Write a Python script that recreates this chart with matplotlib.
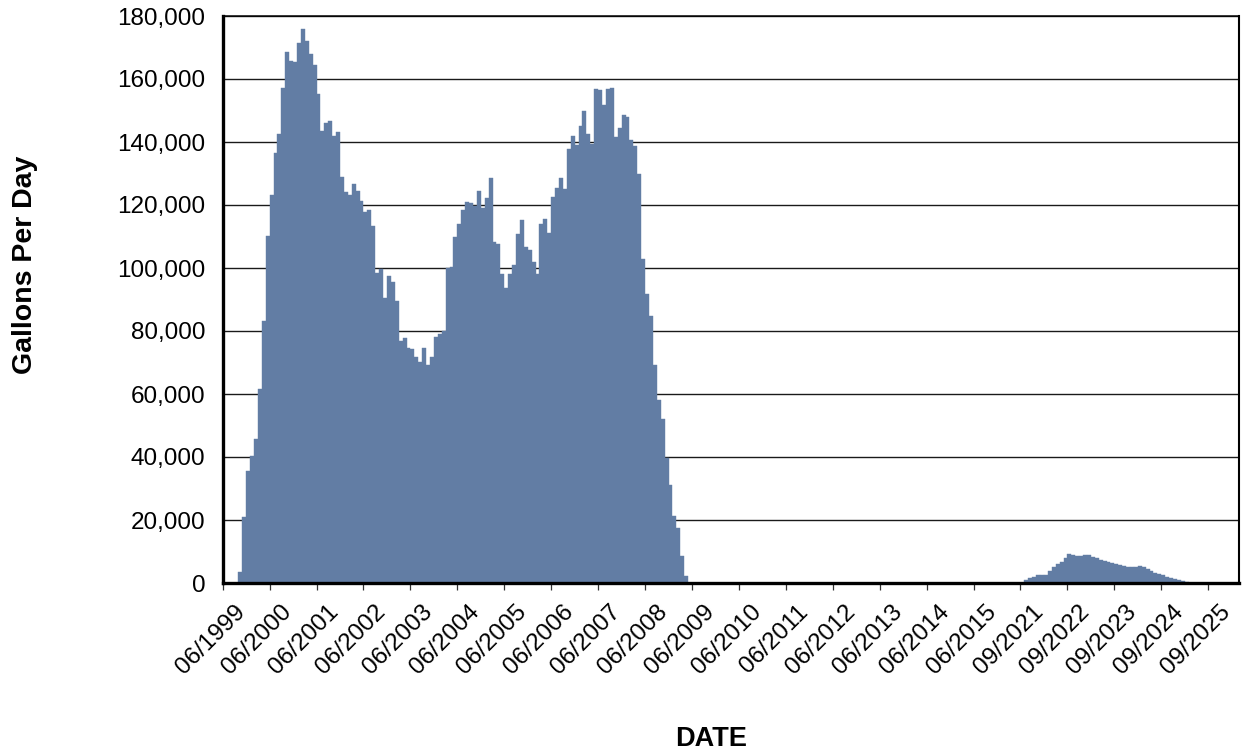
import numpy as np
import matplotlib
matplotlib.use("Agg")
import matplotlib.pyplot as plt
import matplotlib.transforms as mtransforms
from matplotlib.ticker import FuncFormatter, MultipleLocator

plt.rcParams['font.family'] = ['Liberation Sans', 'DejaVu Sans']

# Monthly values (gallons per day)
values_1999_2009 = [
    0, 0, 0, 0, 3500, 20900, 35600, 40400, 45600, 61500,
    83300, 110300, 123200, 136500, 142600, 157200, 168600, 165800, 165500, 171300,
    176000, 172000, 167800, 164300, 155100, 143600, 146000, 146800, 141800, 143200,
    129000, 124200, 123200, 126700, 124500, 121400, 117700, 118400, 113200, 98300,
    99700, 90500, 97600, 95400, 89600, 76700, 77800, 74600, 74400, 71900,
    70100, 74600, 69300, 71700, 78000, 79000, 80100, 100100, 100300, 110000,
    114000, 118400, 121100, 120600, 119800, 124500, 119100, 122100, 128500, 108200,
    107700, 98000, 93800, 98200, 100800, 110800, 115300, 106600, 105800, 101900,
    98000, 114000, 115600, 111100, 122600, 125400, 128500, 125100, 137900, 142000,
    139100, 145000, 150000, 142400, 139400, 156900, 156400, 151600, 156900, 157300,
    141600, 144400, 148700, 147900, 140600, 138700, 129900, 102800, 91800, 84700,
    69300, 58200, 52100, 39600, 31100, 21200, 17500, 8700, 2200,
]
values_gap = [0] * 86
values_2021_2025 = [
    1000, 1500, 2000, 2400, 2600, 2600, 3900, 5000, 6000, 6800,
    7800, 9200, 8800, 8600, 8600, 8800, 8800, 8400, 7800, 7300,
    6900, 6600, 6200, 5900, 5600, 5300, 5100, 5100, 5100, 5300,
    5200, 4500, 3900, 3300, 2900, 2400, 2000, 1700, 1400, 1100,
    600, 400,
]
values_tail = [0] * 13
gallons_per_day = values_1999_2009 + values_gap + values_2021_2025 + values_tail

tick_labels = [
    '06/1999', '06/2000', '06/2001', '06/2002', '06/2003', '06/2004',
    '06/2005', '06/2006', '06/2007', '06/2008', '06/2009', '06/2010',
    '06/2011', '06/2012', '06/2013', '06/2014', '06/2015',
    '09/2021', '09/2022', '09/2023', '09/2024', '09/2025',
]
bars_per_tick = 12

W, H = 1247, 751
fig = plt.figure(figsize=(W / 100, H / 100), dpi=100)
ax = fig.add_axes([222.7 / W, 1 - 583 / H, (1239.5 - 222.7) / W, (583 - 16) / H])

x = np.arange(len(gallons_per_day))
ax.bar(x, gallons_per_day, width=1.0, align='edge', color='#627DA4',
       edgecolor='#627DA4', linewidth=0.3, zorder=2)

ax.set_xlim(0, len(gallons_per_day))
ax.set_ylim(0, 180000)
ax.yaxis.set_major_locator(MultipleLocator(20000))
ax.yaxis.set_major_formatter(FuncFormatter(lambda v, p: f'{int(v):,}'))
ax.grid(axis='y', color='#1a1a1a', linewidth=1.0, zorder=1)
ax.grid(axis='x', visible=False)
ax.set_axisbelow(True)

ax.set_xticks(np.arange(len(tick_labels)) * bars_per_tick)
ax.set_xticklabels(tick_labels, rotation=45, ha='right', va='center',
                   rotation_mode='anchor', fontsize=17.5)
ax.tick_params(axis='x', length=5, width=0.9, color='#333333', pad=13.5)
ax.tick_params(axis='y', length=0, pad=12.5, labelsize=17.5)

offset = mtransforms.ScaledTranslation(19 / 100, 0, fig.dpi_scale_trans)
for lab in ax.xaxis.get_majorticklabels():
    lab.set_transform(lab.get_transform() + offset)

for side in ['left', 'bottom']:
    ax.spines[side].set_linewidth(2.4)
    ax.spines[side].set_color('black')
ax.spines['top'].set_linewidth(1.1)
ax.spines['right'].set_linewidth(1.5)
ax.spines['top'].set_color('black')
ax.spines['right'].set_color('black')

fig.text(25 / W, 1 - 265 / H, 'Gallons Per Day', rotation=90, ha='center',
         va='center', fontsize=20.5, fontweight='bold')
fig.text(711 / W, 1 - 739 / H, 'DATE', ha='center', va='center',
         fontsize=19.5, fontweight='bold')

fig.savefig('out.png', dpi=100)
